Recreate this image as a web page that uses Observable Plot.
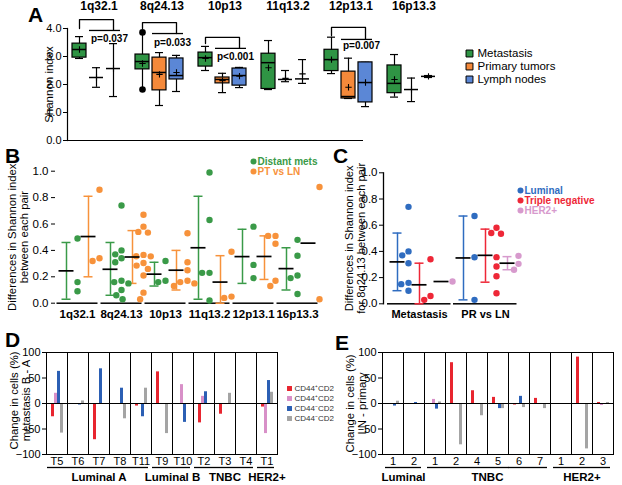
<!DOCTYPE html>
<html><head><meta charset="utf-8">
<script src="https://cdn.jsdelivr.net/npm/d3@7"></script>
<script src="https://cdn.jsdelivr.net/npm/@observablehq/plot@0.6"></script>
<style>
body{margin:0;background:#fff}
#fig{position:relative;width:622px;height:485px;overflow:hidden;background:#fff;font-family:Arial,"Liberation Sans",Helvetica,sans-serif}
#fig > *{position:absolute}
.lbl{font-weight:bold;font-size:21px;line-height:1}
</style></head><body><div id="fig"></div>
<script>
// ================= DATA =================
// Panel A: Shannon index box summaries (per locus)
const loci = ["1q32.1","8q24.13","10p13","11q13.2","12p13.1","16p13.3"];
const tissues = ["Metastasis","Primary tumors","Lymph nodes"];
const tissueColors = ["#2f9444","#f5893a","#5b87d6"];
const metMin  = [2.93, 1.82, 2.50, 1.82, 2.39, 1.55];
const metQ1   = [2.96, 2.54, 2.64, 1.84, 2.48, 1.69];
const metMed  = [3.25, 2.82, 2.96, 2.78, 2.89, 2.04];
const metQ3   = [3.46, 3.07, 3.14, 3.10, 3.24, 2.68];
const metMax  = [3.71, 3.86, 3.36, 3.57, 3.69, 3.07];
const metMean = [3.25, 2.75, 2.93, 2.60, 2.89, 2.18];
const ptMin   = [1.90, 1.25, 1.71, 2.10, 1.50, 1.39];
const ptQ1    = [null, 1.79, 2.04, null, 1.50, null];
const ptMed   = [2.25, 2.43, 2.18, 2.18, 1.57, 1.82];
const ptQ3    = [null, 2.96, 2.25, null, 2.46, null];
const ptMax   = [2.60, 3.14, 2.40, 2.50, 2.94, 2.23];
const ptMean  = [2.25, 2.36, 2.14, 2.22, 1.90, 1.82];
const lnMin   = [1.57, 1.75, 1.89, 2.04, 1.21, 2.25];
const lnQ1    = [null, 2.18, 1.96, null, 1.36, null];
const lnMed   = [2.57, 2.32, 2.32, 2.20, 2.07, 2.29];
const lnQ3    = [null, 2.93, 2.57, null, 2.79, null];
const lnMax   = [3.46, 3.04, 2.61, 2.89, 2.79, 2.32];
const lnMean  = [2.57, 2.43, 2.30, 2.38, 2.07, 2.29];
const outLocus = ["8q24.13","8q24.13"];
const outTissue = ["Metastasis","Metastasis"];
const outValue = [3.86, 1.82];
const pLoci = ["1q32.1","8q24.13","10p13","12p13.1"];
const pText = ["p=0.037","p=0.033","p<0.001","p=0.007"];
const pTop = [4.32, 4.21, 3.68, 4.04];
const pLeftEnd = [4.00, 4.00, 3.46, 3.75];
const pRightEnd = [3.93, 3.82, 3.29, 3.61];
const pTextY = [3.64, 3.50, 3.00, 3.39];

// Panel B: differences in Shannon index between each pair
const bSeries = ["Distant mets","PT vs LN"];
const bColors = ["#3a9a48","#f7923b"];
const metsPts = [
  [0.49, 0.16, 0.09],
  [0.74, 0.40, 0.37, 0.34, 0.31, 0.17, 0.16, 0.15, 0.10, 0.06, 0.03],
  [0.32, 0.17, 0.16],
  [0.99, 0.63, 0.23, 0.23, 0.02],
  [0.58, 0.29, 0.19],
  [0.48, 0.36, 0.21, 0.19, 0.07]
];
const metsMean = [0.245, 0.257, 0.22, 0.42, 0.353, 0.262];
const metsLo   = [0.03, 0.06, 0.13, 0.03, 0.15, 0.10];
const metsHi   = [0.46, 0.46, 0.31, 0.81, 0.56, 0.42];
const ptlnPts = [
  [0.86, 0.34, 0.32],
  [0.67, 0.58, 0.54, 0.535, 0.366, 0.356, 0.355, 0.305, 0.285, 0.26, 0.21, 0.08, 0.03],
  [0.53, 0.31, 0.25, 0.17, 0.16, 0.15, 0.13],
  [0.39, 0.05, 0.04],
  [0.51, 0.51, 0.45, 0.17, 0.13],
  [0.88, 0.03]
];
const ptlnMean = [0.505, 0.35, 0.25, 0.16, 0.354, 0.455];
const ptlnLo   = [0.20, 0.15, 0.10, 0.00, 0.18, null];
const ptlnHi   = [0.81, 0.55, 0.40, 0.36, 0.51, null];

// Panel C: 8q24.13 by subtype
const cComparisons = ["Metastasis","PR vs LN"];
const cSubtypes = ["Luminal","Triple negative","HER2+"];
const cColors = ["#2f6cc0","#ee2737","#d79acd"];
const cMetPts = [[0.74,0.40,0.37,0.31,0.16,0.15,0.10],[0.34,0.06,0.03],[0.17]];
const cMetMean = [0.32, 0.145, 0.17];
const cMetLo = [0.10, 0.00, null];
const cMetHi = [0.54, 0.31, null];
const cPrPts = [[0.67,0.355,0.03],[0.58,0.54,0.535,0.356,0.285,0.21,0.08],[0.366,0.305,0.26]];
const cPrMean = [0.35, 0.37, 0.31];
const cPrLo = [0.03, 0.165, 0.26];
const cPrHi = [0.67, 0.57, 0.36];

// Panels D and E: change in cells (%)
const markers = ["CD44\u207ACD24\u207B","CD44\u207ACD24\u207A","CD44\u207BCD24\u207A","CD44\u207BCD24\u207B"];
const markerColors = ["#e8252f","#d890c8","#2b5fb4","#a4a4a4"];
const dTumors = ["T5","T6","T7","T8","T11","T9","T10","T2","T3","T4","T1"];
const dGroups = ["Luminal A","Luminal A","Luminal A","Luminal A","Luminal A","Luminal B","Luminal B","TNBC","TNBC","TNBC","HER2+"];
const dRed  = [-26, -1.5, -71, 0, -5, 62, 0, -38, -21, 0, -7];
const dPink = [20, 0, 0, 0, 0, -2, 37, 14, 0, 0, -59];
const dBlue = [63, -3, 68, 30, -26, 0, -37, 23, 0, 0, 45];
const dGray = [-58, 5, 0, -30, 30, -59, 0, 0, 20, 0, 22];
const eGroups = ["Luminal","Luminal","TNBC","TNBC","TNBC","TNBC","TNBC","TNBC","HER2+","HER2+","HER2+"];
const eIds = ["1","2","1","2","4","5","6","7","1","2","3"];
const eRed  = [0, -1, 0, 80, 25, 12, -3, 10, 0, 91, 2];
const ePink = [0, 0, 8, 0, 0, 0, -2, 0, 0, 0, -4];
const eBlue = [-5, 2, -11, 0, 0, -10, 14, 0, 0, 0, 0];
const eGray = [4.5, 0, 3, -81, -24, -10, -8, -10, 0, -89, 2];

// ================= HELPERS =================
const FONT = 'Arial, "Liberation Sans", Helvetica, sans-serif';
const st = (extra = {}) => Object.assign({fontFamily: FONT, fontSize: "11px", color: "black", background: "transparent", overflow: "visible"}, extra);
const fig = document.getElementById("fig");
function put(node, left, top) { node.style.position = "absolute"; node.style.left = left + "px"; node.style.top = top + "px"; fig.appendChild(node); return node; }
function letter(t, left, top) { const d = document.createElement("div"); d.className = "lbl"; d.textContent = t; put(d, left, top); }

function legend({items, colors, width, height, x0, y0, y1, symbol, r, stroke, colorText, fontSize, fontWeight, dx, textFill}) {
  return Plot.plot({
    width, height, margin: 0, style: st(),
    x: {type: "linear", domain: [0, 1], range: [x0, x0 + 1], axis: null},
    y: {type: "point", domain: items, range: [y0, y1], padding: 0, axis: null},
    color: {domain: items, range: colors},
    marks: [
      Plot.dot(items, {x: () => 0, y: d => d, symbol, r, fill: d => d, stroke: stroke || "none", strokeWidth: 1}),
      Plot.text(items, {x: () => 0, y: d => d, text: d => d, dx, textAnchor: "start", fill: colorText ? (d => d) : (textFill || "black"), fontSize, fontWeight})
    ]
  });
}

// rotated y-axis title drawn in the left-most facet
function yTitle(text, firstKey, dx, dy, fontSize, lineHeight = 1.05) {
  return Plot.text([text], {fx: () => firstKey, text: d => d, frameAnchor: "left", textAnchor: "middle", lineAnchor: "middle", rotate: -90, dx, dy, fontSize, lineHeight});
}

// group underline + label marks for faceted bar panels
function groupMarks(keys, groupOf, {insetL, insetR, underDy, labelDy, fontSize}) {
  const n = keys.length;
  const isFirst = keys.map((k, i) => i === 0 || groupOf[i - 1] !== groupOf[i]);
  const isLast = keys.map((k, i) => i === n - 1 || groupOf[i + 1] !== groupOf[i]);
  const marks = [];
  for (const [f, l] of [[false, false], [true, false], [false, true], [true, true]]) {
    const sel = keys.filter((k, i) => isFirst[i] === f && isLast[i] === l);
    if (sel.length) marks.push(Plot.ruleY(sel, {fx: d => d, y: () => -100, dy: underDy, strokeWidth: 1.3, insetLeft: f ? insetL : 0, insetRight: l ? insetR : 0}));
  }
  const uniq = [...new Set(groupOf)];
  const odd = [], even = [];
  uniq.forEach(g => {
    const mem = keys.filter((k, i) => groupOf[i] === g);
    if (mem.length % 2) odd.push({key: mem[(mem.length - 1) / 2], g});
    else even.push({key: mem[mem.length / 2 - 1], g});
  });
  marks.push(Plot.text(odd, {fx: "key", text: "g", frameAnchor: "bottom", textAnchor: "middle", lineAnchor: "middle", dy: labelDy, fontWeight: "bold", fontSize}));
  marks.push(Plot.text(even, {fx: "key", text: "g", frameAnchor: "bottom-right", textAnchor: "middle", lineAnchor: "middle", dy: labelDy, fontWeight: "bold", fontSize}));
  return marks;
}

// ================= PANEL A =================
const aSeries = [
  [metMin, metQ1, metMed, metQ3, metMax, metMean],
  [ptMin, ptQ1, ptMed, ptQ3, ptMax, ptMean],
  [lnMin, lnQ1, lnMed, lnQ3, lnMax, lnMean]
];
const aStats = [];
tissues.forEach((t, j) => loci.forEach((l, i) => {
  const s = aSeries[j];
  aStats.push({locus: l, tissue: t, min: s[0][i], q1: s[1][i], med: s[2][i], q3: s[3][i], max: s[4][i], mean: s[5][i]});
}));
const aBoxes = aStats.filter(d => d.q1 != null);
const aOut = outValue.map((v, i) => ({locus: outLocus[i], tissue: outTissue[i], v}));
const aCaps = aStats.filter(d => !aOut.some(o => o.locus === d.locus && o.tissue === d.tissue));
const pData = pLoci.map((l, i) => ({locus: l, text: pText[i], top: pTop[i], le: pLeftEnd[i], re: pRightEnd[i], ty: pTextY[i]}));
const bracketPts = pData.flatMap(p => [
  {locus: p.locus, x: "Metastasis", y: p.le}, {locus: p.locus, x: "Metastasis", y: p.top},
  {locus: p.locus, x: "Lymph nodes", y: p.top}, {locus: p.locus, x: "Lymph nodes", y: p.re}
]);

const plotA = Plot.plot({
  width: 460, height: 150, marginLeft: 67, marginRight: 15, marginTop: 28, marginBottom: 10,
  style: st(),
  fx: {domain: loci, padding: 0},
  x: {domain: tissues, paddingInner: 0.2, paddingOuter: 0.4, align: 0.32, axis: null},
  y: {domain: [0, 4]},
  color: {domain: tissues, range: tissueColors},
  marks: [
    Plot.axisY({ticks: [0, 1, 2, 3, 4], tickSize: 4, tickPadding: 2, label: null, fontSize: 11}),
    Plot.axisFx({anchor: "top", tickSize: 0, label: null, fontWeight: "bold", fontSize: 12, dy: -10}),
    Plot.frame({anchor: "left", facetAnchor: "left", strokeWidth: 1.2}),
    Plot.ruleY(loci.slice(0, 4), {fx: d => d, y: () => 0, strokeWidth: 1.2}),
    Plot.ruleY([loci[4]], {fx: d => d, y: () => 0, insetRight: 19, strokeWidth: 1.2}),
    Plot.ruleX(aStats, {fx: "locus", x: "tissue", y1: "min", y2: "max", strokeWidth: 1.2}),
    Plot.tickY(aCaps, {fx: "locus", x: "tissue", y: "min", inset: 3, strokeWidth: 1.2}),
    Plot.tickY(aCaps, {fx: "locus", x: "tissue", y: "max", inset: 3, strokeWidth: 1.2}),
    Plot.barY(aBoxes, {fx: "locus", x: "tissue", y1: "q1", y2: "q3", fill: "tissue", stroke: "black", strokeWidth: 1.2}),
    Plot.tickY(aStats, {fx: "locus", x: "tissue", y: "med", strokeWidth: 1.5}),
    Plot.dot(aStats, {fx: "locus", x: "tissue", y: "mean", symbol: "plus", r: 2.2, stroke: "black", strokeWidth: 1.1}),
    Plot.dot(aOut, {fx: "locus", x: "tissue", y: "v", r: 3.3, fill: "black"}),
    Plot.line(bracketPts, {fx: "locus", x: "x", y: "y", z: "locus", strokeWidth: 1.3}),
    Plot.ruleY(pData, {fx: "locus", x1: () => "Primary tumors", x2: () => "Lymph nodes", y: "re", strokeWidth: 1.3}),
    Plot.text(pData, {fx: "locus", x: () => "Lymph nodes", y: "ty", text: "text", dx: -4, fontSize: 10, fontWeight: "bold"}),
    yTitle("Shannon index", loci[0], -18, 0, 11.5)
  ]
});
put(plotA, 0, 0);
put(legend({items: tissues, colors: tissueColors, width: 180, height: 54, x0: 29, y0: 13, y1: 39, symbol: "square", r: 3.9, stroke: "black", fontSize: 11.5, dx: 8}), 440, 40);

// ================= PANEL B =================
const bKeys = loci.flatMap(l => bSeries.map(s => l + "|" + s));
const bPoints = [], bStats = [];
[[metsPts, metsMean, metsLo, metsHi], [ptlnPts, ptlnMean, ptlnLo, ptlnHi]].forEach(([pts, mean, lo, hi], j) => {
  loci.forEach((l, i) => {
    const key = l + "|" + bSeries[j];
    pts[i].forEach(v => bPoints.push({key, series: bSeries[j], v}));
    bStats.push({key, series: bSeries[j], mean: mean[i], lo: lo[i], hi: hi[i]});
  });
});
const bErr = bStats.filter(d => d.hi != null);
const mid = () => "c";
const plotB = Plot.plot({
  width: 324, height: 185, marginLeft: 55, marginRight: 5, marginTop: 30.7, marginBottom: 22.3,
  style: st(),
  fx: {domain: bKeys, padding: 0, axis: null},
  x: {domain: ["c"], padding: 0, axis: null},
  y: {domain: [0, 1]},
  color: {domain: bSeries, range: bColors},
  marks: [
    Plot.axisY({ticks: [0, 0.2, 0.4, 0.6, 0.8, 1.0], tickFormat: ".1f", tickSize: 4, tickPadding: 3, label: null, fontSize: 11.5}),
    Plot.ruleY(bKeys.filter(k => k.endsWith(bSeries[0])), {fx: d => d, y: () => 0, insetLeft: 1.5, strokeWidth: 1.5}),
    Plot.ruleY(bKeys.filter(k => k.endsWith(bSeries[1])), {fx: d => d, y: () => 0, insetRight: 1.5, strokeWidth: 1.5}),
    Plot.text(loci, {fx: d => d + "|" + bSeries[0], text: d => d, frameAnchor: "bottom-right", textAnchor: "middle", lineAnchor: "middle", dy: 11, fontWeight: "bold", fontSize: 11.5}),
    Plot.ruleX(bErr, {fx: "key", x: mid, y1: "lo", y2: "hi", stroke: "series", strokeWidth: 1.5}),
    Plot.tickY(bErr, {fx: "key", x: mid, y: "lo", stroke: "series", strokeWidth: 1.5, insetLeft: 6.5, insetRight: 6.5}),
    Plot.tickY(bErr, {fx: "key", x: mid, y: "hi", stroke: "series", strokeWidth: 1.5, insetLeft: 6.5, insetRight: 6.5}),
    Plot.dot(bPoints, Plot.dodgeX("middle", {fx: "key", y: "v", r: 3.2, fill: "series", padding: 0.3})),
    Plot.tickY(bStats, {fx: "key", x: mid, y: "mean", stroke: "black", strokeWidth: 1.7, insetLeft: 3.5, insetRight: 3.5}),
    yTitle("Differences in Shannon index\nbetween each pair", bKeys[0], -37, 0, 11.3)
  ]
});
put(plotB, 0, 140);
put(legend({items: bSeries, colors: bColors, width: 100, height: 32, x0: 13, y0: 10.5, y1: 20.5, symbol: "circle", r: 3, colorText: true, fontSize: 10, fontWeight: "bold", dx: 4}), 240, 150);

// ================= PANEL C =================
const cKeys = cComparisons.flatMap(c => cSubtypes.map(s => c + "|" + s));
const cPoints = [], cStats = [];
[[cMetPts, cMetMean, cMetLo, cMetHi], [cPrPts, cPrMean, cPrLo, cPrHi]].forEach(([pts, mean, lo, hi], j) => {
  cSubtypes.forEach((s, i) => {
    const key = cComparisons[j] + "|" + s;
    pts[i].forEach(v => cPoints.push({key, sub: s, v}));
    cStats.push({key, sub: s, mean: mean[i], lo: lo[i], hi: hi[i]});
  });
});
const cErr = cStats.filter(d => d.hi != null);
const plotC = Plot.plot({
  width: 200, height: 185, marginLeft: 56, marginRight: 12, marginTop: 32.3, marginBottom: 21.7,
  style: st(),
  fx: {domain: cKeys, padding: 0, axis: null},
  x: {domain: ["c"], padding: 0, axis: null},
  y: {domain: [0, 1]},
  color: {domain: cSubtypes, range: cColors},
  marks: [
    Plot.axisY({ticks: [0, 0.2, 0.4, 0.6, 0.8, 1.0], tickFormat: ".1f", tickSize: 4, tickPadding: 2, label: null, fontSize: 11.5, dx: -3}),
    Plot.frame({anchor: "left", facetAnchor: "left", dx: -3, strokeWidth: 1.3}),
    Plot.ruleY(cKeys.filter(k => k.endsWith(cSubtypes[0])), {fx: d => d, y: () => 0, insetLeft: 1, strokeWidth: 1.5}),
    Plot.ruleY(cKeys.filter(k => k.endsWith(cSubtypes[1])), {fx: d => d, y: () => 0, strokeWidth: 1.5}),
    Plot.ruleY(cKeys.filter(k => k.endsWith(cSubtypes[2])), {fx: d => d, y: () => 0, insetRight: 1.5, strokeWidth: 1.5}),
    Plot.text(cComparisons, {fx: d => d + "|" + cSubtypes[1], text: d => d, frameAnchor: "bottom", textAnchor: "middle", lineAnchor: "middle", dy: 11, fontWeight: "bold", fontSize: 11}),
    Plot.ruleX(cErr, {fx: "key", x: mid, y1: "lo", y2: "hi", stroke: "sub", strokeWidth: 1.5}),
    Plot.tickY(cErr, {fx: "key", x: mid, y: "lo", stroke: "sub", strokeWidth: 1.5, insetLeft: 6.5, insetRight: 6.5}),
    Plot.tickY(cErr, {fx: "key", x: mid, y: "hi", stroke: "sub", strokeWidth: 1.5, insetLeft: 6.5, insetRight: 6.5}),
    Plot.dot(cPoints, Plot.dodgeX("middle", {fx: "key", y: "v", r: 3.2, fill: "sub", padding: 0.3})),
    Plot.tickY(cStats, {fx: "key", x: mid, y: "mean", stroke: "black", strokeWidth: 1.7, insetLeft: 3.5, insetRight: 3.5}),
    yTitle("Differences in Shannon index\nfor 8q24.13 between each pair", cKeys[0], -31.5, 0, 11.2)
  ]
});
put(plotC, 330, 140);
put(legend({items: cSubtypes, colors: cColors, width: 115, height: 42, x0: 15, y0: 10, y1: 30, symbol: "circle", r: 3, colorText: true, fontSize: 10, fontWeight: "bold", dx: 4}), 505, 180);

// ================= PANEL D =================
const dVals = [dRed, dPink, dBlue, dGray];
const dBars = dTumors.flatMap((t, i) => markers.map((m, j) => ({key: t, marker: m, v: dVals[j][i]})));
const plotD = Plot.plot({
  width: 283, height: 155, marginLeft: 45, marginRight: 5, marginTop: 22, marginBottom: 31,
  style: st(),
  fx: {domain: dTumors, padding: 0},
  x: {domain: markers, paddingInner: 0, paddingOuter: 0.65, axis: null},
  y: {domain: [-100, 100]},
  color: {domain: markers, range: markerColors},
  marks: [
    Plot.barY(dBars, {fx: "key", x: "marker", y: "v", fill: "marker"}),
    Plot.ruleY([0], {strokeWidth: 1}),
    Plot.frame({stroke: "black", strokeWidth: 1}),
    Plot.axisY({ticks: [-100, -50, 0, 50, 100], tickSize: 4, tickPadding: 2, label: null, fontSize: 11}),
    Plot.axisFx({anchor: "bottom", tickSize: 0, tickPadding: 3, label: null, fontSize: 11}),
    ...groupMarks(dTumors, dGroups, {insetL: 1, insetR: 3, underDy: 13, labelDy: 23, fontSize: 11.5}),
    yTitle("Change in cells (%)\nmetastasis B - A", dTumors[0], -26.5, -3, 11.3)
  ]
});
put(plotD, 0, 330);
put(legend({items: markers, colors: markerColors, width: 80, height: 45, x0: 6, y0: 7, y1: 39, symbol: "square", r: 2.8, fontSize: 8, dx: 5, textFill: "#333"}), 283, 380);

// ================= PANEL E =================
const eKeys = eGroups.map((g, i) => g + " " + eIds[i]);
const eVals = [eRed, ePink, eBlue, eGray];
const eBars = eKeys.flatMap((k, i) => markers.map((m, j) => ({key: k, marker: m, v: eVals[j][i]})));
const plotE = Plot.plot({
  width: 286, height: 155, marginLeft: 46, marginRight: 6, marginTop: 22, marginBottom: 31,
  style: st({background: "white"}),
  fx: {domain: eKeys, padding: 0},
  x: {domain: markers, paddingInner: 0, paddingOuter: 0.65, axis: null},
  y: {domain: [-100, 100]},
  color: {domain: markers, range: markerColors},
  marks: [
    Plot.barY(eBars, {fx: "key", x: "marker", y: "v", fill: "marker"}),
    Plot.ruleY([0], {strokeWidth: 1}),
    Plot.frame({stroke: "black", strokeWidth: 1}),
    Plot.axisY({ticks: [-100, -50, 0, 50, 100], tickSize: 4, tickPadding: 2, label: null, fontSize: 11}),
    Plot.axisFx({anchor: "bottom", tickSize: 0, tickPadding: 3, label: null, fontSize: 11, tickFormat: k => eIds[eKeys.indexOf(k)]}),
    ...groupMarks(eKeys, eGroups, {insetL: 3, insetR: 3, underDy: 13, labelDy: 23, fontSize: 11.5}),
    yTitle("Change in cells (%)\nLN - primary", eKeys[0], -26, 0, 11.3)
  ]
});
put(plotE, 334, 330);

// panel letters
letter("A", 28, 4); letter("B", 5, 145); letter("C", 333, 145); letter("D", 5, 329); letter("E", 335, 332);
</script></body></html>
